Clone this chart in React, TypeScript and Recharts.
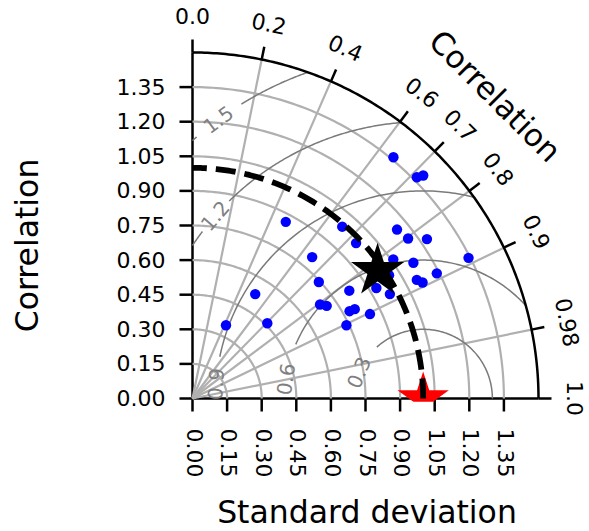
import React from 'react';
import { ScatterChart, Scatter, XAxis, YAxis } from 'recharts';

// ---------- data ----------
const stdTicks = [0, 0.15, 0.3, 0.45, 0.6, 0.75, 0.9, 1.05, 1.2, 1.35];
const stdTickLabels = ['0.00', '0.15', '0.30', '0.45', '0.60', '0.75', '0.90', '1.05', '1.20', '1.35'];
const corrTicks = [0.0, 0.2, 0.4, 0.6, 0.7, 0.8, 0.9, 0.98, 1.0];
const corrTickLabels = ['0.0', '0.2', '0.4', '0.6', '0.7', '0.8', '0.9', '0.98', '1.0'];
const maxStd = 1.5;
const refStd = 1.0;
const rmsLevels = [0.3, 0.6, 0.9, 1.2, 1.5];
const rmsLabels = ['0.3', '0.6', '0.9', '1.2', '1.5'];
const rmsLabelAngle = [158, 172, 176, 138.7, 126.3];
const rmsGapStart = [132, 157, 168.4, 134.5, 121.7];
const rmsGapEnd = [180, 180, 180, 142.9, 130.9];

const modelStd = [1.361, 1.366, 1.391, 0.866, 0.988, 1.150, 1.164, 1.229, 0.978, 0.803,
  1.343, 1.059, 1.124, 1.006, 1.190, 1.100, 1.117, 0.745, 0.930, 0.825,
  0.968, 0.528, 0.687, 0.707, 0.779, 0.803, 0.852, 0.739, 0.460, 0.349];
const modelCorr = [0.640, 0.712, 0.719, 0.467, 0.657, 0.771, 0.803, 0.827, 0.725, 0.646,
  0.891, 0.822, 0.852, 0.847, 0.890, 0.884, 0.893, 0.735, 0.857, 0.824,
  0.884, 0.515, 0.805, 0.823, 0.874, 0.876, 0.903, 0.903, 0.705, 0.416];
const meanStd = 0.975;
const meanCorr = 0.823;

// ---------- helpers ----------
const FONT = 'DejaVu Sans';
const clamp = (v: number) => Math.min(maxStd, Math.max(0, v));
const deg = Math.PI / 180;
const polar = (s: number, c: number) => ({ x: clamp(s * c), y: clamp(s * Math.sqrt(Math.max(0, 1 - c * c))) });

function arcAroundOrigin(r: number, a0: number, a1: number, n = 120) {
  const pts: { x: number; y: number }[] = [];
  for (let i = 0; i <= n; i++) {
    const a = (a0 + ((a1 - a0) * i) / n) * deg;
    pts.push({ x: clamp(r * Math.cos(a)), y: clamp(r * Math.sin(a)) });
  }
  return pts;
}
function arcAroundRef(rho: number, a0: number, a1: number, n = 120) {
  const pts: { x: number; y: number }[] = [];
  for (let i = 0; i <= n; i++) {
    const a = (a0 + ((a1 - a0) * i) / n) * deg;
    pts.push({ x: clamp(refStd + rho * Math.cos(a)), y: clamp(rho * Math.sin(a)) });
  }
  return pts;
}

const stdArcs = stdTicks.filter((s) => s > 0).map((s) => arcAroundOrigin(s, 0, 90));
const radialLines = corrTicks.filter((c) => c > 0 && c < 1).map((c) => [{ x: 0, y: 0 }, polar(maxStd, c)]);

const rmsSegments: { x: number; y: number }[][] = [];
rmsLevels.forEach((rho, i) => {
  const cmin = Math.min(1, (maxStd * maxStd - refStd * refStd - rho * rho) / (2 * refStd * rho));
  const phiMin = Math.acos(cmin) / deg;
  const phiMax = Math.acos(Math.max(-1, -refStd / rho)) / deg;
  const s1 = Math.min(rmsGapStart[i], phiMax);
  if (s1 > phiMin) rmsSegments.push(arcAroundRef(rho, phiMin, s1));
  const s2 = Math.max(rmsGapEnd[i], phiMin);
  if (phiMax > s2) rmsSegments.push(arcAroundRef(rho, s2, phiMax, 20));
});
const rmsLabelData = rmsLevels.map((rho, i) => ({
  x: clamp(refStd + rho * Math.cos(rmsLabelAngle[i] * deg)),
  y: clamp(rho * Math.sin(rmsLabelAngle[i] * deg)),
  label: rmsLabels[i],
  rot: 90 - rmsLabelAngle[i],
}));

const corrTickData = corrTicks.map((c, i) => ({ ...polar(maxStd, c), label: corrTickLabels[i], angle: Math.acos(c) }));
const corrTitleData = [{ ...polar(maxStd, Math.cos(45 * deg)), label: 'Correlation' }];

const modelData = modelStd.map((s, i) => polar(s, modelCorr[i]));
const meanData = [polar(meanStd, meanCorr)];
const refData = [{ x: refStd, y: 0 }];
const outerArc = arcAroundOrigin(maxStd, 0, 90, 180);
const refArc = arcAroundOrigin(refStd, 0, 90, 180);

function starPath(cx: number, cy: number, R: number) {
  const r = R * 0.381966;
  let d = '';
  for (let i = 0; i < 10; i++) {
    const rad = i % 2 === 0 ? R : r;
    const a = -Math.PI / 2 + (i * Math.PI) / 5;
    d += (i === 0 ? 'M' : 'L') + (cx + rad * Math.cos(a)).toFixed(2) + ',' + (cy + rad * Math.sin(a)).toFixed(2);
  }
  return d + 'Z';
}

// ---------- shapes ----------
const NoDot = () => <g />;
const BlueDot = (p: any) => <circle cx={p.cx} cy={p.cy} r={5.2} fill="#0000ff" />;
const BlackStar = (p: any) => <path d={starPath(p.cx, p.cy, 28)} fill="#000000" />;
const RedStar = (p: any) => (
  <g>
    <defs>
      <clipPath id="refStarClip">
        <rect x={p.cx - 40} y={p.cy - 40} width={80} height={43.2} />
      </clipPath>
    </defs>
    <path d={starPath(p.cx, p.cy, 27)} fill="#ff0000" clipPath="url(#refStarClip)" />
  </g>
);
const CorrTick = (p: any) => {
  const a = p.payload.angle;
  const ux = Math.cos(a);
  const uy = -Math.sin(a);
  const lx = p.cx + 36 * ux;
  const ly = p.cy + 36 * uy;
  return (
    <g>
      <line x1={p.cx} y1={p.cy} x2={p.cx + 13 * ux} y2={p.cy + 13 * uy} stroke="#000" strokeWidth={2.5} />
      <text x={lx} y={ly} transform={`rotate(${90 - a / deg}, ${lx}, ${ly})`} textAnchor="middle"
        dominantBaseline="central" fontSize={22} fontFamily={FONT} fill="#000">{p.payload.label}</text>
    </g>
  );
};
const CorrTitle = (p: any) => {
  const lx = p.cx + 82 * Math.cos(45 * deg);
  const ly = p.cy - 82 * Math.sin(45 * deg);
  return (
    <text x={lx} y={ly} transform={`rotate(45, ${lx}, ${ly})`} textAnchor="middle" dominantBaseline="central"
      fontSize={31} fontFamily={FONT} fill="#000">{p.payload.label}</text>
  );
};
const RmsLabel = (p: any) => (
  <text x={p.cx} y={p.cy} transform={`rotate(${p.payload.rot}, ${p.cx}, ${p.cy})`} textAnchor="middle"
    dominantBaseline="central" fontSize={20} fontFamily={FONT} fill="#7f7f7f">{p.payload.label}</text>
);

const XTick = (p: any) => (
  <text x={p.x + 1.5} y={p.y} transform={`rotate(90, ${p.x + 1.5}, ${p.y})`} textAnchor="start"
    dominantBaseline="central" fontSize={22} fontFamily={FONT} fill="#000">
    {stdTickLabels[stdTicks.indexOf(p.payload.value)] ?? p.payload.value}
  </text>
);
const YTick = (p: any) => (
  <text x={p.x} y={p.y} textAnchor="end" dominantBaseline="central" fontSize={22} fontFamily={FONT} fill="#000">
    {stdTickLabels[stdTicks.indexOf(p.payload.value)] ?? p.payload.value}
  </text>
);
const XTitle = (p: any) => {
  const vb = p.viewBox || { x: 192.5, y: 398.5, width: 346, height: 100 };
  return (
    <text x={vb.x + vb.width / 2 + 1.5} y={vb.y + 124.5} textAnchor="middle" fontSize={31.5} fontFamily={FONT} fill="#000">
      Standard deviation
    </text>
  );
};
const YTitle = (p: any) => {
  const vb = p.viewBox || { x: 92.5, y: 52.5, width: 100, height: 346 };
  const x = vb.x - 54.5;
  const y = vb.y + vb.height / 2 + 20;
  return (
    <text x={x} y={y} transform={`rotate(-90, ${x}, ${y})`} textAnchor="middle" fontSize={31.5} fontFamily={FONT} fill="#000">
      Correlation
    </text>
  );
};

const GRID = '#b0b0b0';
const CONTOUR = '#7a7a7a';

export default function App() {
  return (
    <div style={{ position: 'absolute', left: 0, top: 0, width: 589, height: 531, background: '#fff' }}>
      <ScatterChart width={589} height={531} margin={{ top: 52.5, right: 50.5, bottom: 32.5, left: 92.5 }}>
        <XAxis type="number" dataKey="x" domain={[0, maxStd]} ticks={stdTicks} interval={0} height={100}
          tickSize={13} tickMargin={17} axisLine={{ stroke: '#000', strokeWidth: 2.5 }}
          tickLine={{ stroke: '#000', strokeWidth: 2.5 }} tick={XTick} label={{ content: XTitle }} />
        <YAxis type="number" dataKey="y" domain={[0, maxStd]} ticks={stdTicks} interval={0} width={100}
          tickSize={13} tickMargin={14} axisLine={{ stroke: '#000', strokeWidth: 2.5 }}
          tickLine={{ stroke: '#000', strokeWidth: 2.5 }} tick={YTick} label={{ content: YTitle }} />
        {stdArcs.map((pts, i) => (
          <Scatter key={'sa' + i} data={pts} shape={NoDot} line={{ stroke: GRID, strokeWidth: 2.2 }} isAnimationActive={false} />
        ))}
        {radialLines.map((pts, i) => (
          <Scatter key={'rl' + i} data={pts} shape={NoDot} line={{ stroke: GRID, strokeWidth: 2.2 }} isAnimationActive={false} />
        ))}
        {rmsSegments.map((pts, i) => (
          <Scatter key={'rm' + i} data={pts} shape={NoDot} line={{ stroke: CONTOUR, strokeWidth: 1.5 }} isAnimationActive={false} />
        ))}
        <Scatter data={rmsLabelData} shape={RmsLabel} isAnimationActive={false} />
        <Scatter data={modelData} shape={BlueDot} isAnimationActive={false} />
        <Scatter data={refData} shape={RedStar} isAnimationActive={false} />
        <Scatter data={refArc} shape={NoDot} line={{ stroke: '#000', strokeWidth: 5.8, strokeDasharray: '20 9' }} isAnimationActive={false} />
        <Scatter data={meanData} shape={BlackStar} isAnimationActive={false} />
        <Scatter data={outerArc} shape={NoDot} line={{ stroke: '#000', strokeWidth: 2.5 }} isAnimationActive={false} />
        <Scatter data={corrTickData} shape={CorrTick} isAnimationActive={false} />
        <Scatter data={corrTitleData} shape={CorrTitle} isAnimationActive={false} />
      </ScatterChart>
    </div>
  );
}
